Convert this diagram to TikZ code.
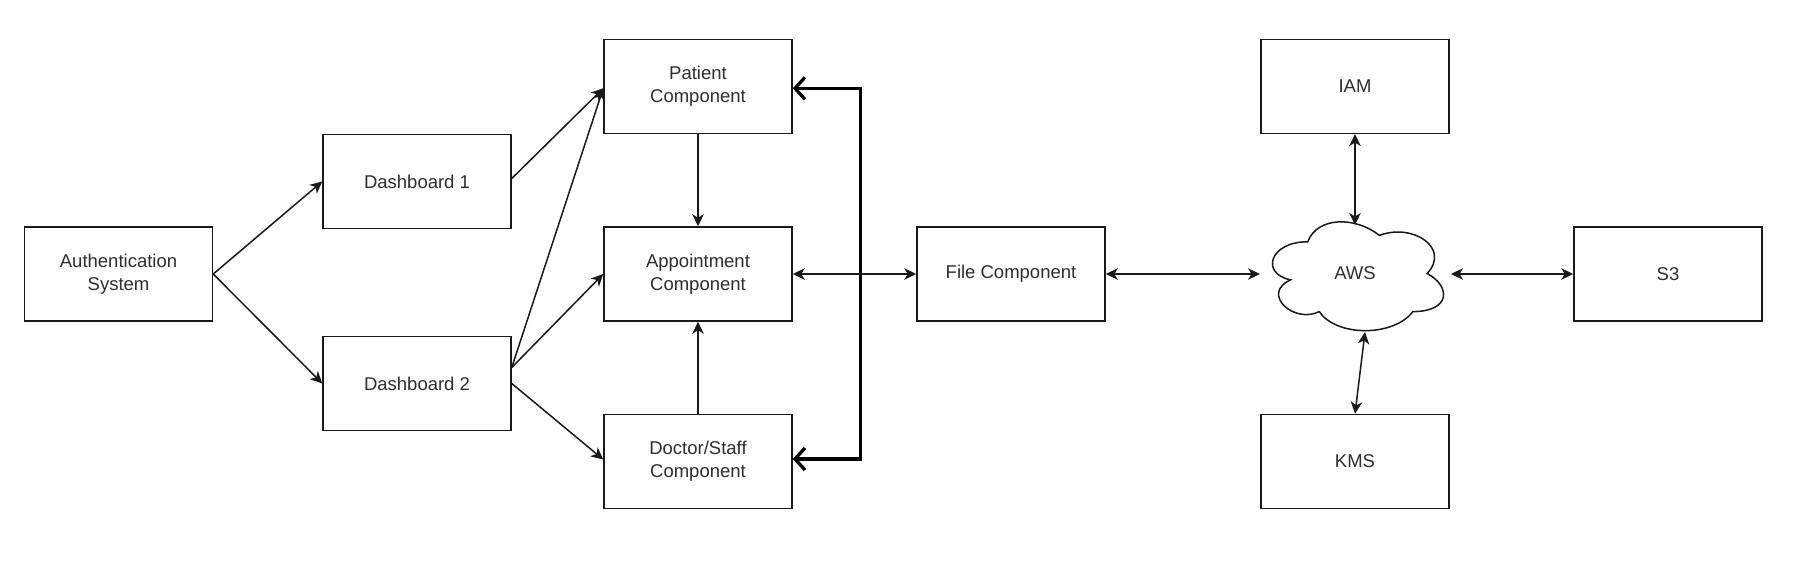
\documentclass[tikz,border=0pt]{standalone}
\usepackage{fontspec}
\setmainfont{Liberation Sans}
\usetikzlibrary{arrows.meta,calc}
\definecolor{txt}{HTML}{2E2E2E}
\definecolor{ln}{HTML}{1A1A1A}
\begin{document}
\begin{tikzpicture}[x=1pt,y=-1pt,
  lbl/.style={align=center, font=\fontsize{18.5}{23}\selectfont, text=txt, inner sep=0pt},
  box/.style={lbl, draw=ln, line width=1.5pt, minimum width=188pt, minimum height=94pt},
  tip/.tip={Stealth[length=12pt,width=11.5pt,inset=3.5pt]},
  con/.style={line width=1.5pt, draw=ln, -tip},
  bicon/.style={line width=1.5pt, draw=ln, tip-tip},
  bracket/.style={line width=3.3pt, draw=black, {Straight Barb[length=10pt,width=22pt]}-{Straight Barb[length=10pt,width=22pt]}}
]
\useasboundingbox (0,0) rectangle (1808,575);
\fill[white] (0,0) rectangle (1808,575);

% boxes
\node[box] (auth) at (118.5,274) {Authentication\\System};
\node[box] (d1) at (417,181.5) {Dashboard 1};
\node[box] (d2) at (417,383.5) {Dashboard 2};
\node[box] (pat) at (698,86.3) {Patient\\Component};
\node[box] (appt) at (698,274) {Appointment\\Component};
\node[box] (doc) at (698,461.5) {Doctor/Staff\\Component};
\node[box] (file) at (1011,274) {File Component};
\node[box] (iam) at (1355,86.3) {IAM};
\node[box] (kms) at (1355,461.5) {KMS};
\node[box] (s3) at (1668,274) {S3};

% cloud
\begin{scope}[shift={(1260,210)},xscale=191,yscale=127]
\draw[line width=1.5pt, draw=ln, fill=white]
  (0.25,0.25) .. controls (0.05,0.25) and (0,0.5) .. (0.16,0.55)
  .. controls (0,0.66) and (0.18,0.9) .. (0.31,0.8)
  .. controls (0.4,1) and (0.7,1) .. (0.8,0.8)
  .. controls (1,0.8) and (1,0.6) .. (0.875,0.5)
  .. controls (1,0.3) and (0.8,0.1) .. (0.625,0.2)
  .. controls (0.5,0.05) and (0.3,0.05) .. (0.25,0.25) -- cycle;
\end{scope}
\node[lbl] (aws) at (1355,273) {AWS};
\coordinate (awsN) at (1355,225);
\coordinate (awsS) at (1365,332);
\coordinate (awsW) at (1260,274);
\coordinate (awsE) at (1451,274);

% connectors
\draw[con] (auth.east) -- (d1.west);
\draw[con] (auth.east) -- (d2.west);
\draw[con] ([yshift=3pt]d1.east) -- ([yshift=-2pt]pat.west);
\coordinate (d2up) at ($(d2.east)+(0,-16)$);
\draw[con] (d2up) -- ([yshift=-2pt]pat.west);
\draw[con] (d2up) -- (appt.west);
\draw[con] (d2.east) -- ([yshift=2pt]doc.west);
\draw[con] (pat.south) -- (appt.north);
\draw[con] (doc.north) -- (appt.south);
\draw[bracket] ([yshift=-2pt]pat.east) -- ++(68,0) |- ([yshift=2.5pt]doc.east);
\draw[bicon] (appt.east) -- (file.west);
\draw[bicon] (file.east) -- (awsW);
\draw[bicon] (awsE) -- (s3.west);
\draw[bicon] (iam.south) -- (awsN);
\draw[bicon] (awsS) -- (kms.north);
\end{tikzpicture}
\end{document}
